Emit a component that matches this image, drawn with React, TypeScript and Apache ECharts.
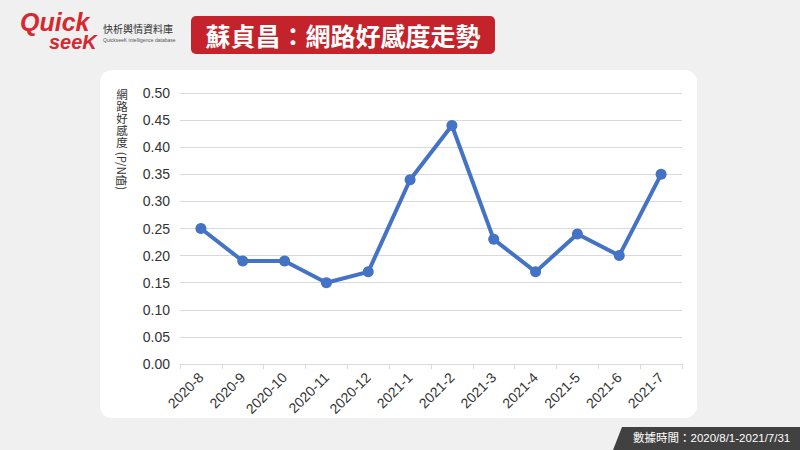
import React, { useEffect, useRef } from "react";
import * as echarts from "echarts";

const categories = ["2020-8", "2020-9", "2020-10", "2020-11", "2020-12", "2021-1", "2021-2", "2021-3", "2021-4", "2021-5", "2021-6", "2021-7"];
const values = [0.25, 0.19, 0.19, 0.15, 0.17, 0.34, 0.44, 0.23, 0.17, 0.24, 0.2, 0.35];
const titleText = "蘇貞昌：網路好感度走勢";
const footerText = "數據時間：2020/8/1-2021/7/31";
const yNameChars = ["網", "路", "好", "感", "度"];
const yNameTail = "(P/N值)";

const CJK = '"Noto Sans CJK TC", "Noto Sans", sans-serif';
const LAT = 'Arial, "Liberation Sans", "Noto Sans CJK TC", sans-serif';

export default function App() {
  const ref = useRef<HTMLDivElement>(null);
  useEffect(() => {
    if (!ref.current) return;
    const chart = echarts.init(ref.current, undefined, { renderer: "svg" });
    const nameEls = yNameChars.map((c, i) => ({
      type: "text",
      x: 122,
      y: 93.5 + i * 12.2,
      style: { text: c, fill: "#333", font: `11.5px ${CJK}`, lineHeight: 12, align: "center", verticalAlign: "middle" },
    }));
    chart.setOption({
      animation: false,
      backgroundColor: "#f0f0f0",
      grid: { left: 180, right: 118, top: 93, bottom: 86 },
      xAxis: {
        type: "category",
        data: categories,
        boundaryGap: true,
        axisLine: { lineStyle: { color: "#d9d9d9", width: 1 } },
        axisTick: { show: true, length: 5, lineStyle: { color: "#d9d9d9" } },
        axisLabel: { rotate: 45, color: "#333", fontSize: 14, fontFamily: LAT, margin: 11, interval: 0 },
      },
      yAxis: {
        type: "value",
        min: 0,
        max: 0.5,
        interval: 0.05,
        axisLine: { show: false },
        axisTick: { show: false },
        splitLine: { lineStyle: { color: "#d9d9d9", width: 1 } },
        axisLabel: { color: "#333", fontSize: 14, fontFamily: LAT, margin: 10, formatter: (v: number) => v.toFixed(2) },
      },
      series: [
        {
          type: "line",
          data: values,
          symbol: "circle",
          symbolSize: 11,
          lineStyle: { color: "#4472c4", width: 4 },
          itemStyle: { color: "#4472c4" },
        },
      ],
      graphic: [
        { type: "rect", z: -10, shape: { x: 100, y: 70, width: 597, height: 348, r: 12 }, style: { fill: "#ffffff" } },
        { type: "rect", shape: { x: 191, y: 16, width: 304, height: 38, r: 5 }, style: { fill: "#c4232b" } },
        {
          type: "text",
          x: 343,
          y: 35,
          style: { text: titleText, fill: "#ffffff", font: `bold 25px ${CJK}`, align: "center", verticalAlign: "middle" },
        },
        ...nameEls,
        {
          type: "text",
          x: 122,
          y: 171,
          rotation: -Math.PI / 2,
          style: { text: yNameTail, fill: "#333", font: `11.5px ${CJK}`, lineHeight: 12, align: "center", verticalAlign: "middle" },
        },
        { type: "polygon", shape: { points: [[622, 427], [800, 427], [800, 450], [613, 450]] }, style: { fill: "#414141" } },
        {
          type: "text",
          x: 633,
          y: 438,
          style: { text: footerText, fill: "#ffffff", font: `11.5px ${LAT}`, align: "left", verticalAlign: "middle" },
        },
        {
          type: "text",
          x: 20,
          y: 22,
          style: { text: "Quick", fill: "#d7282f", font: `italic bold 25px ${LAT}`, lineHeight: 22, align: "left", verticalAlign: "middle" },
        },
        {
          type: "text",
          x: 49,
          y: 42,
          style: { text: "seeK", fill: "#d7282f", font: `italic bold 20px ${LAT}`, lineHeight: 18, align: "left", verticalAlign: "middle" },
        },
        {
          type: "text",
          x: 103,
          y: 28,
          style: { text: "快析輿情資料庫", fill: "#333", font: `10px ${CJK}`, align: "left", verticalAlign: "middle" },
        },
        {
          type: "text",
          x: 103,
          y: 40,
          style: { text: "QuickseeK intelligence database", fill: "#555", font: `5px ${LAT}`, align: "left", verticalAlign: "middle" },
        },
      ],
    });
    return () => chart.dispose();
  }, []);
  return <div ref={ref} style={{ position: "fixed", left: 0, top: 0, width: 800, height: 450 }} />;
}
